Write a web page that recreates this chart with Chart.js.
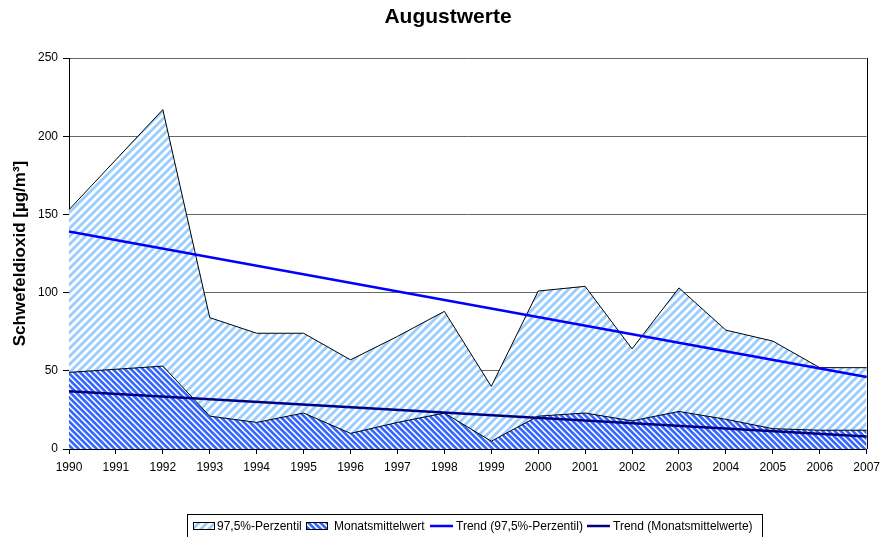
<!DOCTYPE html>
<html><head><meta charset="utf-8">
<style>html,body{margin:0;padding:0;background:#fff}#wrap{width:886px;height:537px}</style>
<script src="https://cdn.jsdelivr.net/npm/chart.js@4.4.1/dist/chart.umd.min.js"></script>
</head><body><div id="wrap"><canvas id="c" width="886" height="537"></canvas></div>
<script>
const years = ['1990','1991','1992','1993','1994','1995','1996','1997','1998','1999','2000','2001','2002','2003','2004','2005','2006','2007'];
const perzentil = [153,185,217,84,74,74,57,72,88,40,101,104,64,103,76,69,52,52];
const monatsmittel = [49,51,53,21,17,23,10,17,23,5,21,23,18,24,19,13,12,12];
const trendPerzentil = [139,null,null,null,null,null,null,null,null,null,null,null,null,null,null,null,null,46];
const trendMonat = [37,null,null,null,null,null,null,null,null,null,null,null,null,null,null,null,null,8];
const yTicks = [0,50,100,150,200,250];
const seriesNames = ['97,5%-Perzentil','Monatsmittelwert','Trend (97,5%-Perzentil)','Trend (Monatsmittelwerte)'];
const titleText = 'Augustwerte';
const yTitle = 'Schwefeldioxid [µg/m³]';

function makePattern(period, frac, rgb, dir){
  const c = document.createElement('canvas'); c.width = period; c.height = period;
  const g = c.getContext('2d'); const img = g.createImageData(period, period);
  const S = 4;
  for (let y=0;y<period;y++) for (let x=0;x<period;x++){
    let cov = 0;
    for (let sy=0;sy<S;sy++) for (let sx=0;sx<S;sx++){
      const px = x+(sx+0.5)/S, py = y+(sy+0.5)/S;
      let u = dir>0 ? (px+py) : (px-py+period*10);
      u = ((u % period)+period)%period;
      if (u < period*frac) cov++;
    }
    cov /= S*S;
    const i = (y*period+x)*4;
    img.data[i] = Math.round(255 + (rgb[0]-255)*cov);
    img.data[i+1] = Math.round(255 + (rgb[1]-255)*cov);
    img.data[i+2] = Math.round(255 + (rgb[2]-255)*cov);
    img.data[i+3] = 255;
  }
  g.putImageData(img,0,0);
  return document.getElementById('c').getContext('2d').createPattern(c,'repeat');
}
const lightPat = makePattern(8, 0.5, [153,204,255], 1);
const darkPat = makePattern(6, 0.62, [51,102,255], -1);
const FONT = "'Liberation Sans', Arial, sans-serif";

const extras = {
  id:'extras',
  afterDraw(chart){
    const ctx = chart.ctx, a = chart.chartArea;
    ctx.save();
    // right border
    ctx.strokeStyle = '#000'; ctx.lineWidth = 1;
    ctx.beginPath(); ctx.moveTo(Math.round(a.right)+0.5, a.top); ctx.lineTo(Math.round(a.right)+0.5, a.bottom); ctx.stroke();
    // title
    ctx.fillStyle = '#000'; ctx.font = 'bold 21px ' + FONT;
    ctx.textAlign = 'center'; ctx.textBaseline = 'alphabetic';
    ctx.fillText(titleText, 448, 23);
    // legend
    ctx.font = '12px ' + FONT; ctx.textBaseline = 'middle'; ctx.textAlign = 'left';
    const ly = 526;
    ctx.lineWidth = 1; ctx.strokeStyle = '#000';
    ctx.strokeRect(187.5, 514.5, 575, 30);
    const items = [
      {type:'box', fill: lightPat, x:193, tx:217},
      {type:'box', fill: darkPat, x:306, tx:334},
      {type:'line', color:'#0000FF', x:430, tx:456},
      {type:'line', color:'#000080', x:587, tx:613}
    ];
    items.forEach((it,i)=>{
      if (it.type==='box'){
        ctx.fillStyle = it.fill; ctx.fillRect(it.x, ly-4, 22, 8);
        ctx.strokeStyle = '#000'; ctx.lineWidth = 1; ctx.strokeRect(it.x+0.5, ly-4+0.5, 21, 7);
      } else {
        ctx.strokeStyle = it.color; ctx.lineWidth = 2.5;
        ctx.beginPath(); ctx.moveTo(it.x, ly); ctx.lineTo(it.x+23, ly); ctx.stroke();
      }
      ctx.fillStyle = '#000'; ctx.fillText(seriesNames[i], it.tx, ly+0.5);
    });
    ctx.restore();
  }
};

new Chart(document.getElementById('c'), {
  type:'line',
  data:{
    labels: years,
    datasets:[
      {label:seriesNames[0], data:perzentil, fill:'origin', backgroundColor:lightPat, borderColor:'#000', borderWidth:1, pointRadius:0, tension:0, order:4},
      {label:seriesNames[1], data:monatsmittel, fill:'origin', backgroundColor:darkPat, borderColor:'#000', borderWidth:1, pointRadius:0, tension:0, order:3},
      {label:seriesNames[2], data:trendPerzentil, fill:false, borderColor:'#0000FF', borderWidth:2.5, pointRadius:0, spanGaps:true, order:2},
      {label:seriesNames[3], data:trendMonat, fill:false, borderColor:'#000080', borderWidth:2.5, pointRadius:0, spanGaps:true, order:1}
    ]
  },
  options:{
    responsive:false, animation:false, devicePixelRatio:1,
    layout:{padding:{top:58, right:19, bottom:58, left:0}},
    plugins:{legend:{display:false}, title:{display:false}, tooltip:{enabled:false}},
    scales:{
      x:{
        type:'category', offset:false,
        grid:{drawOnChartArea:false, drawTicks:true, tickLength:5, color:'#000', offset:false},
        border:{color:'#000', width:1},
        ticks:{color:'#000', font:{family:FONT, size:12}, padding:6, maxRotation:0, autoSkip:false},
        afterFit(s){ s.height = 30; }
      },
      y:{
        min:0, max:250,
        afterBuildTicks(s){ s.ticks = yTicks.map(v=>({value:v})); },
        grid:{color:'#666', tickColor:'#000', tickLength:6, drawTicks:true},
        border:{color:'#000', width:1},
        ticks:{color:'#000', font:{family:FONT, size:12}, padding:5},
        title:{display:true, text:yTitle, color:'#000', font:{family:FONT, size:17, weight:'bold'}, padding:{top:10,bottom:0}},
        afterFit(s){ s.width = 69; }
      }
    }
  },
  plugins:[extras]
});
</script></body></html>
